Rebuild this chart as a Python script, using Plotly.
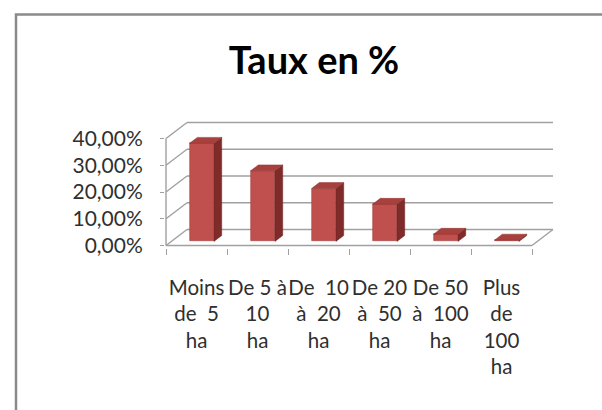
import plotly.graph_objects as go

# ---------------- data ----------------
categories = ["Moins de  5 ha", "De 5 à 10 ha", "De  10 à  20 ha",
              "De 20 à  50 ha", "De 50 à  100 ha", "Plus de 100 ha"]
tick_labels = ["Moins<br>de\u00a0\u00a05<br>ha",
               "De 5 à<br>10<br>ha",
               "De\u00a0\u00a010<br>à\u00a0\u00a020<br>ha",
               "De 20<br>à\u00a0\u00a050<br>ha",
               "De 50<br>à\u00a0\u00a0100<br>ha",
               "Plus<br>de<br>100<br>ha"]
taux = [36.7, 26.4, 19.8, 13.9, 2.7, 0.5]
y_ticks = [0, 10, 20, 30, 40]
y_tick_labels = ["0,00%", "10,00%", "20,00%", "30,00%", "40,00%"]
title_text = "Taux en %"

# ---------------- style / geometry ----------------
W, H = 602, 410
DX, DY = 0.344, 6.0          # depth offset of the 3D box (x units, y units)
F0, FD = 0.25, 0.37          # bar front depth fraction, bar depth fraction
BW = 0.4                     # bar width
PX_X, PX_Y = 61.0, 2.675     # pixel per unit
ML, MR, MT, MB = 165, 47, 121, 162
front_px, zero_px = 166.0, 245.5

plot_w = W - ML - MR
plot_h = H - MT - MB
x0 = -0.5 - (front_px - ML) / PX_X
xr = [x0, x0 + plot_w / PX_X]
y_top = (zero_px - MT) / PX_Y
yr = [y_top - plot_h / PX_Y, y_top]

n = len(taux)
grid_col = "#A0A0A0"
front_col = "#C0504D"
side_col = "#7E2B29"
top_col = "#A8403D"

fig = go.Figure()

# front faces
bx = [i + F0 * DX for i in range(n)]
base = F0 * DY
fig.add_trace(go.Bar(x=bx, y=taux, base=base, width=BW,
                     marker=dict(color=front_col, line=dict(color="#A33F3C", width=0.6)),
                     hoverinfo="skip", showlegend=False))

# side and top faces
sx, sy = [], []
tx, ty = [], []
ddx, ddy = FD * DX, FD * DY
for xi, v in zip(bx, taux):
    l, r = xi - BW / 2, xi + BW / 2
    t = base + v
    sx += [r, r, r + ddx, r + ddx, r, None]
    sy += [base, t, t + ddy, base + ddy, base, None]
    tx += [l, r, r + ddx, l + ddx, l, None]
    ty += [t, t, t + ddy, t + ddy, t, None]
fig.add_trace(go.Scatter(x=sx, y=sy, mode="lines", fill="toself", fillcolor=side_col,
                         line=dict(color="#6E2422", width=0.5), hoverinfo="skip", showlegend=False))
fig.add_trace(go.Scatter(x=tx, y=ty, mode="lines", fill="toself", fillcolor=top_col,
                         line=dict(color="#8E3532", width=0.5), hoverinfo="skip", showlegend=False))

# walls (behind traces)
shapes = []
lx, rx = -0.5, n - 0.5
gl = dict(color=grid_col, width=1.4)
for v in y_ticks:
    shapes.append(dict(type="line", xref="x", yref="y", layer="below",
                       x0=lx + DX, y0=v + DY, x1=rx + DX, y1=v + DY, line=gl))
    shapes.append(dict(type="line", xref="x", yref="y", layer="below",
                       x0=lx, y0=v, x1=lx + DX, y1=v + DY, line=gl))
shapes.append(dict(type="line", xref="x", yref="y", layer="below",
                   x0=lx, y0=0, x1=lx, y1=max(y_ticks), line=gl))
shapes.append(dict(type="line", xref="x", yref="y", layer="below",
                   x0=lx, y0=0, x1=rx, y1=0, line=gl))
shapes.append(dict(type="line", xref="x", yref="y", layer="below",
                   x0=rx, y0=0, x1=rx + DX, y1=DY, line=gl))

# picture frame (paper coords from pixels)
def px2paper(px, py):
    return (px - ML) / plot_w, 1 - (py - MT) / plot_h

fx0, fy0 = px2paper(16, H + 5)
fx1, fy1 = px2paper(16, 14.5)
fx2, fy2 = px2paper(W + 5, 14.5)
shapes.append(dict(type="path", xref="paper", yref="paper",
                   path=f"M {fx0} {fy0} L {fx1} {fy1} L {fx2} {fy2}",
                   line=dict(color="#8A8A8A", width=2.5)))

font_fam = "Lato, Roboto, sans-serif"
fig.update_layout(
    width=W, height=H,
    margin=dict(l=ML, r=MR, t=MT, b=MB, pad=0),
    paper_bgcolor="white", plot_bgcolor="rgba(0,0,0,0)",
    shapes=shapes,
    title=dict(text=f"<b>{title_text}</b>", x=314 / W, xanchor="center",
               y=1 - 61 / H, yanchor="middle", yref="container",
               font=dict(family=font_fam, size=38, color="black")),
    xaxis=dict(range=xr, tickmode="array", tickvals=list(range(n)), ticktext=tick_labels,
               ticks="", showgrid=False, zeroline=False, showline=False,
               tickangle=0,
               tickfont=dict(family=font_fam, size=20.5, color="#2F2F2F"),
               ticklabelstandoff=25,
               minor=dict(tickmode="array", tickvals=[i - 0.5 for i in range(n + 1)],
                          ticks="outside", ticklen=6, tickcolor=grid_col, tickwidth=1.4,
                          showgrid=False),
               fixedrange=True),
    yaxis=dict(range=yr, tickmode="array", tickvals=y_ticks, ticktext=y_tick_labels,
               ticks="outside", ticklen=4, tickcolor=grid_col, tickwidth=1.4,
               showgrid=False, zeroline=False, showline=False,
               tickfont=dict(family=font_fam, size=21, color="#2F2F2F"),
               ticklabelstandoff=13, fixedrange=True),
    bargap=0,
)

fig.write_html("out.html", config={"displayModeBar": False},
               post_script="document.body.style.margin='0';document.body.style.padding='0';")
